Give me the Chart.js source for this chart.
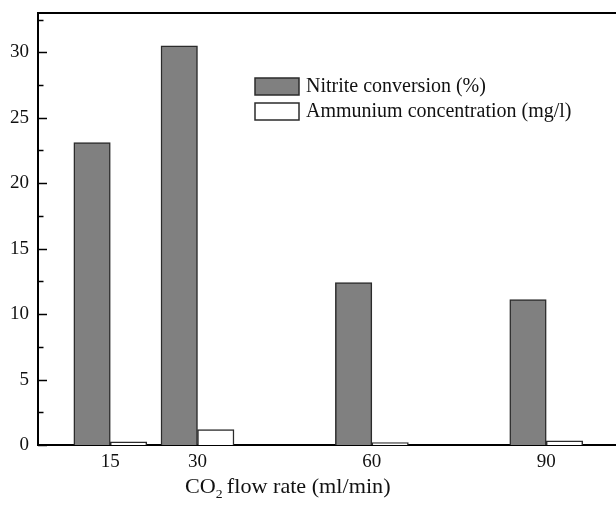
<!DOCTYPE html>
<html>
<head>
<meta charset="utf-8">
<script src="https://cdn.jsdelivr.net/npm/chart.js@4"></script>
<style>
    body { margin: 0; background: #fff; overflow: hidden; }
    canvas { display: block; }
</style>
</head>
<body>
<canvas id="myChart" width="616" height="509"></canvas>
<script>
'use strict';
const flowRates = [15, 30, 60, 90];
const nitriteConversion = [23.1, 30.5, 12.4, 11.1];
const ammoniumConcentration = [0.25, 1.17, 0.19, 0.31];
const yTicks = [0, 5, 10, 15, 20, 25, 30];
const seriesNames = ['Nitrite conversion (%)', 'Ammunium concentration (mg/l)'];
const serif = "'Liberation Serif', 'Times New Roman', serif";

function toPoints(values) {
    const points = [];
    for (let i = 0; i < flowRates.length; i++) {
        points.push({ x: flowRates[i], y: values[i] });
    }
    return points;
}

// inward tick marks on the y axis, top frame line, legend and axis title
const decorations = {
    id: 'decorations',
    afterDraw: function (chart) {
        const ctx = chart.ctx;
        const area = chart.chartArea;
        const yScale = chart.scales.y;
        ctx.save();
        ctx.strokeStyle = '#000';
        ctx.lineWidth = 2;
        ctx.beginPath();
        ctx.moveTo(area.left - 1, area.top);
        ctx.lineTo(area.right, area.top);
        ctx.stroke();

        ctx.lineWidth = 1.5;
        for (let v = 0; v <= yScale.max; v += 2.5) {
            const py = Math.round(yScale.getPixelForValue(v)) + 0.5;
            const len = v % 5 === 0 ? 9 : 5.5;
            ctx.beginPath();
            ctx.moveTo(area.left, py);
            ctx.lineTo(area.left + len, py);
            ctx.stroke();
        }

        // legend
        const datasets = chart.data.datasets;
        ctx.font = '20px ' + serif;
        ctx.textBaseline = 'middle';
        for (let i = 0; i < datasets.length; i++) {
            const top = 78 + i * 25;
            ctx.fillStyle = datasets[i].backgroundColor;
            ctx.fillRect(255, top, 44, 17);
            ctx.lineWidth = 1.5;
            ctx.strokeStyle = datasets[i].borderColor;
            ctx.strokeRect(255, top, 44, 17);
            ctx.fillStyle = '#111';
            ctx.fillText(datasets[i].label, 306, top + 9);
        }

        // x axis title with subscript, slightly stretched like the original
        ctx.textBaseline = 'alphabetic';
        ctx.translate(185, 493);
        ctx.scale(1.055, 1);
        let x = 0;
        ctx.font = '21px ' + serif;
        ctx.fillText('CO', x, 0);
        x += ctx.measureText('CO').width;
        ctx.font = '13px ' + serif;
        ctx.fillText('2', x, 5);
        x += ctx.measureText('2').width + 4;
        ctx.font = '21px ' + serif;
        ctx.fillText('flow rate (ml/min)', x, 0);
        ctx.restore();
    }
};

const ctx = document.getElementById('myChart');
const chart = new Chart(ctx, {
    type: 'bar',
    data: {
        datasets: [{
            label: seriesNames[0],
            data: toPoints(nitriteConversion),
            backgroundColor: '#808080',
            borderColor: '#2b2b2b',
            borderWidth: 1.5,
        },
        {
            label: seriesNames[1],
            data: toPoints(ammoniumConcentration),
            backgroundColor: '#ffffff',
            borderColor: '#2b2b2b',
            borderWidth: 1.5,
        }]
    },
    options: {
        responsive: false,
        animation: false,
        barThickness: 36.5,
        layout: { padding: { top: 13, left: 0, right: 0, bottom: 0 } },
        plugins: {
            legend: { display: false },
            tooltip: { enabled: false },
        },
        scales: {
            x: {
                type: 'linear',
                offset: false,
                min: 2.56,
                max: 102,
                afterBuildTicks: function (scale) {
                    scale.ticks = flowRates.map(function (v) { return { value: v }; });
                },
                afterFit: function (scale) {
                    scale.height = 64;
                    scale.paddingLeft = 0;
                    scale.paddingRight = 0;
                },
                grid: { display: false, drawTicks: false, offset: false },
                border: { display: true, color: '#000', width: 2 },
                ticks: {
                    padding: 6,
                    color: '#111',
                    font: { family: serif, size: 19 },
                    maxRotation: 0,
                    autoSkip: false,
                },
            },
            y: {
                min: 0,
                max: 33,
                afterBuildTicks: function (scale) {
                    scale.ticks = yTicks.map(function (v) { return { value: v }; });
                },
                afterFit: function (scale) {
                    scale.width = 38;
                    scale.paddingTop = 0;
                    scale.paddingBottom = 0;
                },
                grid: { display: false, drawTicks: false },
                border: { display: true, color: '#000', width: 2 },
                ticks: {
                    padding: 9,
                    color: '#111',
                    font: { family: serif, size: 19 },
                },
            }
        }
    },
    plugins: [decorations]
});
</script>
</body>
</html>
